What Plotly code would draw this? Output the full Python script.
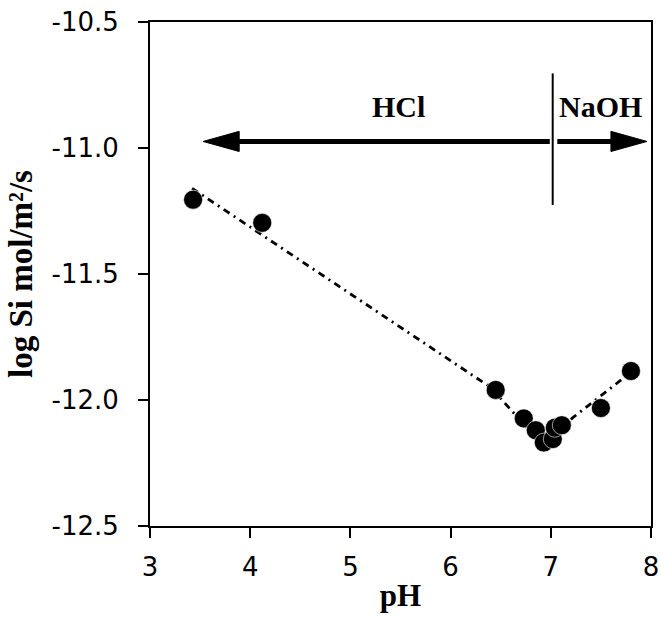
import plotly.graph_objects as go

# Data
ph = [3.43, 4.12, 6.45, 6.73, 6.85, 6.93, 7.02, 7.04, 7.11, 7.50, 7.80]
log_rate = [-11.205, -11.297, -11.96, -12.073, -12.12, -12.169, -12.155, -12.11, -12.10, -12.032, -11.885]

fit_ph = [3.42, 6.40, 6.92, 7.22, 7.80]
fit_log_rate = [-11.16, -11.95, -12.18, -12.07, -11.89]

x_ticks = [3, 4, 5, 6, 7, 8]
y_ticks = [-10.5, -11.0, -11.5, -12.0, -12.5]
y_tick_text = ["-10.5", "-11.0", "-11.5", "-12.0", "-12.5"]

fig = go.Figure()

fig.add_trace(go.Scatter(
    x=fit_ph, y=fit_log_rate, mode="lines",
    line=dict(color="black", width=2.8, dash="7px,5px,2px,5px"),
    showlegend=False, hoverinfo="skip"))

fig.add_trace(go.Scatter(
    x=ph, y=log_rate, mode="markers",
    marker=dict(color="black", size=19, line=dict(color="white", width=0.6)),
    showlegend=False))

# Arrow annotation (HCl / NaOH)
arrow_y = -10.974
head_half = 0.04
head_len = 0.36
shapes = [
    dict(type="line", xref="x", yref="y", x0=3.53 + head_len - 0.02, x1=6.99, y0=arrow_y, y1=arrow_y,
         line=dict(color="black", width=5)),
    dict(type="line", xref="x", yref="y", x0=7.065, x1=7.96 - head_len + 0.02, y0=arrow_y, y1=arrow_y,
         line=dict(color="black", width=5)),
    dict(type="path", xref="x", yref="y",
         path=f"M 3.53 {arrow_y} L {3.53 + head_len} {arrow_y + head_half} L {3.53 + head_len} {arrow_y - head_half} Z",
         fillcolor="black", line=dict(color="black", width=1)),
    dict(type="path", xref="x", yref="y",
         path=f"M 7.96 {arrow_y} L {7.96 - head_len} {arrow_y + head_half} L {7.96 - head_len} {arrow_y - head_half} Z",
         fillcolor="black", line=dict(color="black", width=1)),
    dict(type="line", xref="x", yref="y", x0=7.019, x1=7.019, y0=-10.704, y1=-11.226,
         line=dict(color="black", width=2)),
]

annotations = [
    dict(x=5.478, y=-10.835, xref="x", yref="y", text="<b>HCl</b>", showarrow=False,
         font=dict(family="Liberation Serif", size=30, color="black")),
    dict(x=7.498, y=-10.835, xref="x", yref="y", text="<b>NaOH</b>", showarrow=False,
         font=dict(family="Liberation Serif", size=30, color="black")),
]

fig.update_layout(
    width=661, height=618,
    margin=dict(l=150, r=10, t=22, b=92),
    paper_bgcolor="white", plot_bgcolor="white",
    shapes=shapes, annotations=annotations,
    xaxis=dict(
        range=[3, 8], tickvals=x_ticks, ticktext=[str(v) for v in x_ticks],
        showgrid=False, zeroline=False, automargin=False,
        showline=True, linecolor="black", linewidth=2, mirror=True,
        ticks="outside", ticklen=10, tickwidth=2, tickcolor="black",
        ticklabelstandoff=7,
        tickfont=dict(family="DejaVu Sans", size=26, color="black"),
        title=dict(text="<b>pH</b>", font=dict(family="Liberation Serif", size=31, color="black"), standoff=3),
    ),
    yaxis=dict(
        range=[-12.5, -10.5], tickvals=y_ticks, ticktext=y_tick_text,
        showgrid=False, zeroline=False, automargin=False,
        showline=True, linecolor="black", linewidth=2, mirror=True,
        ticks="outside", ticklen=10, tickwidth=2, tickcolor="black",
        ticklabelstandoff=14,
        tickfont=dict(family="DejaVu Sans", size=26, color="black"),
        title=dict(text="<b>log Si mol/m²/s</b>", font=dict(family="Liberation Serif", size=33, color="black"), standoff=9),
    ),
)

fig.write_html("out.html")
